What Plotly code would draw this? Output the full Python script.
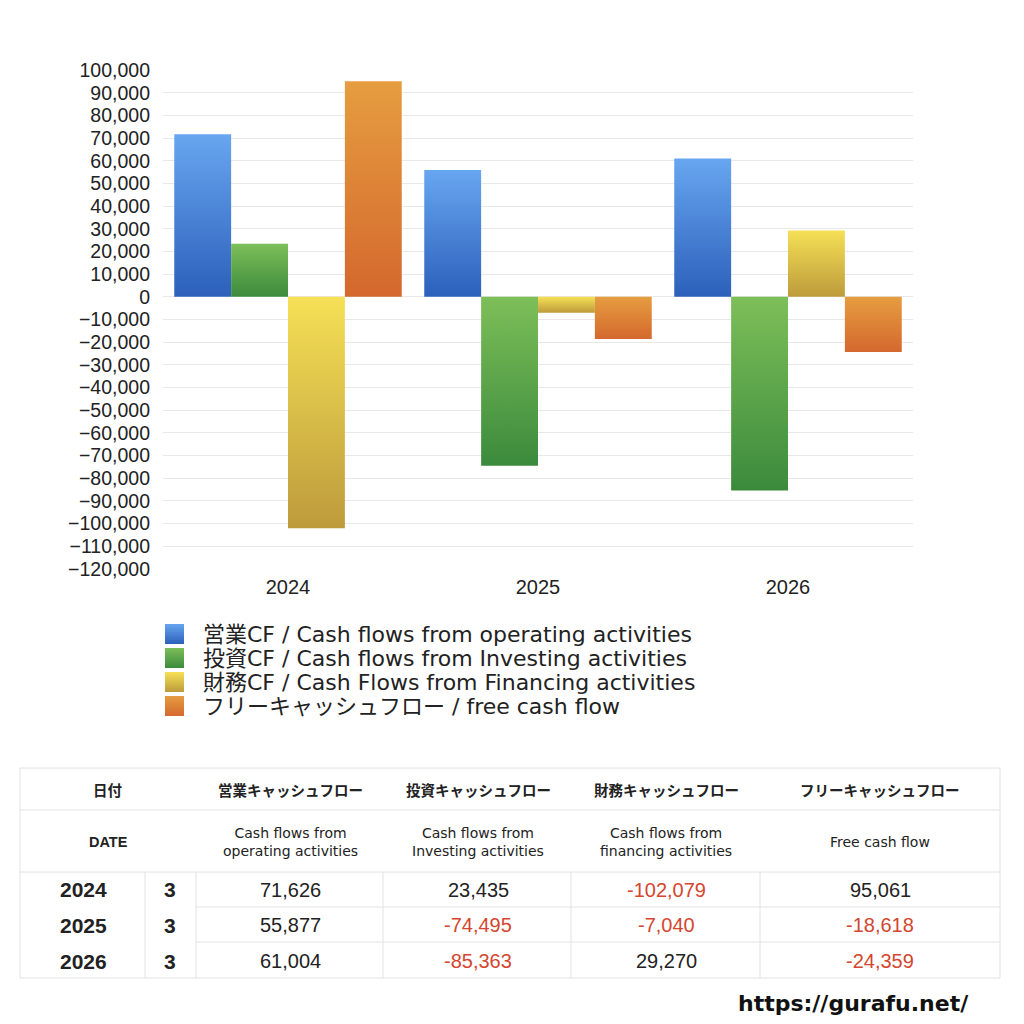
import plotly.graph_objects as go

# ---------------- data ----------------
years = ["2024", "2025", "2026"]
months = ["3", "3", "3"]
operating = [71626, 55877, 61004]
investing = [23435, -74495, -85363]
financing = [-102079, -7040, 29270]
free_cf = [95061, -18618, -24359]

series_names = [
    "営業CF / Cash flows from operating activities",
    "投資CF / Cash flows from Investing activities",
    "財務CF / Cash Flows from Financing activities",
    "フリーキャッシュフロー / free cash flow",
]
head_jp = ["日付", "営業キャッシュフロー", "投資キャッシュフロー", "財務キャッシュフロー", "フリーキャッシュフロー"]
head_en = ["DATE", "Cash flows from<br>operating activities", "Cash flows from<br>Investing activities",
           "Cash flows from<br>financing activities", "Free cash flow"]

# ---------------- styles ----------------
series_vals = [operating, investing, financing, free_cf]
grad = [("#2c60bb", "#68a6f0"), ("#3b8a3c", "#7dbf59"), ("#bd9b3b", "#f5e056"), ("#d4682e", "#e69d40")]
solid = ["#4a84d8", "#5aa54a", "#dcc24a", "#de8236"]
CJK = "Noto Sans CJK JP"
LAT = "Liberation Sans, Noto Sans CJK JP"
WIDE = "DejaVu Sans, Noto Sans CJK JP"
TXT = "#222222"
RED = "#d4462f"
LINE = "#e2e2e2"

L, R, T, B = 163, 913, 70, 569
W, H = R - L, B - T


def px(x):
    return (x - L) / W


def py(y):
    return (B - y) / H


def hexmix(c1, c2, t):
    a = [int(c1[i:i + 2], 16) for i in (1, 3, 5)]
    b = [int(c2[i:i + 2], 16) for i in (1, 3, 5)]
    return "#" + "".join(f"{round(a[k] + (b[k] - a[k]) * t):02x}" for k in range(3))


fig = go.Figure()

bargap = 0.09
n = len(series_vals)
bw = (1 - bargap) / n
for si, vals in enumerate(series_vals):
    for ci, v in enumerate(vals):
        left = ci - (1 - bargap) / 2 + si * bw
        right = left + bw
        fig.add_trace(go.Scatter(
            x=[left, left, right, right, left],
            y=[0, v, v, 0, 0],
            fill="toself",
            mode="lines",
            line=dict(width=0, color=solid[si]),
            fillcolor=solid[si],
            fillgradient=dict(type="vertical", colorscale=[[0, grad[si][0]], [1, grad[si][1]]]),
            name=series_names[si],
            showlegend=False,
            hovertemplate="%{text}<extra></extra>",
            text=[f"{years[ci]}: {v:,}"] * 5,
        ))

shapes = []
annotations = []

# manual legend (gradient swatches built from thin strips)
strips = 10
for i, name in enumerate(series_names):
    yc = 634 + i * 24
    top, bot = yc - 10, yc + 10
    for k in range(strips):
        y0 = top + (bot - top) * k / strips
        y1 = top + (bot - top) * (k + 1) / strips
        shapes.append(dict(type="rect", xref="paper", yref="paper",
                           x0=px(165), x1=px(184), y0=py(y1), y1=py(y0),
                           fillcolor=hexmix(grad[i][1], grad[i][0], (k + 0.5) / strips),
                           line=dict(width=0)))
    annotations.append(dict(xref="paper", yref="paper", x=px(201), y=py(yc),
                            text=name, showarrow=False, xanchor="left", yanchor="middle",
                            font=dict(family=WIDE, size=22, color=TXT)))

# table
tx0, tx1 = 20, 1000
ty = [768, 810, 872, 907, 942, 978]
vcols = [145, 196, 383, 571, 760]
col_centers = [108, 290, 478, 666, 880]


def hline(y, x0=tx0, x1=tx1):
    shapes.append(dict(type="line", xref="paper", yref="paper", x0=px(x0), x1=px(x1),
                       y0=py(y), y1=py(y), line=dict(color=LINE, width=1)))


def vline(x, y0, y1):
    shapes.append(dict(type="line", xref="paper", yref="paper", x0=px(x), x1=px(x),
                       y0=py(y0), y1=py(y1), line=dict(color=LINE, width=1)))


hline(ty[0]); hline(ty[1]); hline(ty[2]); hline(ty[5])
hline(ty[3], 196); hline(ty[4], 196)
vline(tx0, ty[0], ty[5]); vline(tx1, ty[0], ty[5])
for x in vcols:
    vline(x, ty[2], ty[5])

for i in range(5):
    annotations.append(dict(xref="paper", yref="paper", x=px(col_centers[i]), y=py(789),
                            text=f"<b>{head_jp[i]}</b>", showarrow=False,
                            xanchor="center", yanchor="middle",
                            font=dict(family=CJK, size=14.5, color=TXT)))
    annotations.append(dict(xref="paper", yref="paper", x=px(col_centers[i]), y=py(842),
                            text=head_en[i] if i else f"<b>{head_en[i]}</b>", showarrow=False,
                            xanchor="center", yanchor="middle",
                            font=dict(family=LAT if i == 0 else WIDE, size=14 if i else 14.5, color=TXT)))

row_centers = [890, 925, 961]
for r in range(len(years)):
    yc = row_centers[r]
    annotations.append(dict(xref="paper", yref="paper", x=px(83), y=py(yc), text=f"<b>{years[r]}</b>",
                            showarrow=False, xanchor="center", yanchor="middle",
                            font=dict(family=LAT, size=21, color=TXT)))
    annotations.append(dict(xref="paper", yref="paper", x=px(170), y=py(yc), text=f"<b>{months[r]}</b>",
                            showarrow=False, xanchor="center", yanchor="middle",
                            font=dict(family=LAT, size=21, color=TXT)))
    for c, vals in enumerate(series_vals):
        v = vals[r]
        annotations.append(dict(xref="paper", yref="paper", x=px(col_centers[c + 1]), y=py(yc),
                                text=f"{v:,}", showarrow=False, xanchor="center", yanchor="middle",
                                font=dict(family=LAT, size=20, color=RED if v < 0 else TXT)))

annotations.append(dict(xref="paper", yref="paper", x=px(853), y=py(1003), text="<b>https://gurafu.net/</b>",
                        showarrow=False, xanchor="center", yanchor="middle",
                        font=dict(family=WIDE, size=22, color="#111111")))

fig.update_layout(
    width=1024, height=1024,
    margin=dict(l=L, r=1024 - R, t=T, b=1024 - B),
    paper_bgcolor="white", plot_bgcolor="white",
    showlegend=False,
    font=dict(family=LAT, color=TXT),
    xaxis=dict(range=[-0.5, 2.5], tickvals=[0, 1, 2], ticktext=years, showgrid=False,
               zeroline=False, showline=False, ticks="", ticklabelstandoff=4,
               tickfont=dict(family=LAT, size=20, color=TXT)),
    yaxis=dict(range=[-120000, 100000], dtick=10000, tickformat=",", showgrid=True,
               gridcolor="#e8e8e8", zeroline=True, zerolinecolor="#e8e8e8", zerolinewidth=1,
               showline=False, ticks="", ticklabelstandoff=12,
               tickfont=dict(family=LAT, size=19.5, color=TXT)),
    shapes=shapes,
    annotations=annotations,
)

fig.write_html("out.html")
